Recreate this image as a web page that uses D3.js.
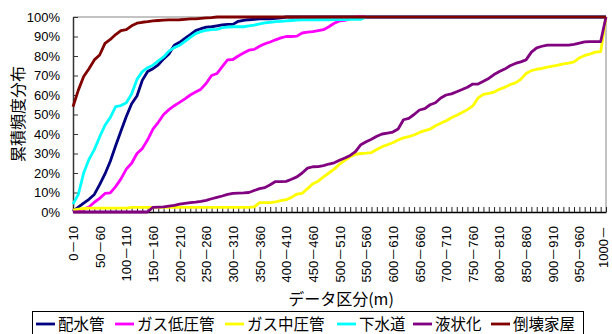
<!DOCTYPE html>
<html>
<head>
<meta charset="utf-8">
<script src="https://cdn.jsdelivr.net/npm/d3@7"></script>
<style>
  body { margin: 0; background: #fff; }
  svg { display: block; }
</style>
</head>
<body>
<svg id="chart" width="612" height="334"></svg>
<script>
// Distance bins (10 m wide) plus the open-ended last bin
const categories = d3.range(0, 1000, 10).map(d => `${d}－${d + 10}`).concat(["1000－"]);

// Labels printed under the axis (every fifth bin)
const xTickLabels = [
  "0－10", "50－60", "100－110", "150－160", "200－210", "250－260", "300－310",
  "350－360", "400－410", "450－460", "500－510", "550－560", "600－610", "650－660",
  "700－710", "750－760", "800－810", "850－860", "900－910", "950－960", "1000－"
];
const yTicks = [0, 10, 20, 30, 40, 50, 60, 70, 80, 90, 100];

const seriesNames = ["配水管", "ガス低圧管", "ガス中圧管", "下水道", "液状化", "倒壊家屋"];
const seriesColors = ["#000080", "#ff00ff", "#ffff00", "#00ffff", "#800080", "#800000"];

// Cumulative frequency (%) per bin
const haisuikan = [
  0.5, 2.5, 4.5, 6.5, 9, 14, 19.5, 26, 34, 41.5,
  49, 55.5, 59.5, 67.5, 72, 73.5, 75.5, 78.5, 81, 85.5,
  87, 89, 91, 93, 94, 94.8, 95, 95.5, 96, 96.2,
  96.2, 97.8, 98.3, 98.6, 98.8, 99, 99, 99.1, 99.3, 99.5,
  100, 100, 100, 100, 100, 100, 100, 100, 100, 100,
  100, 100, 100, 100, 100, 100, 100, 100, 100, 100,
  100, 100, 100, 100, 100, 100, 100, 100, 100, 100,
  100, 100, 100, 100, 100, 100, 100, 100, 100, 100,
  100, 100, 100, 100, 100, 100, 100, 100, 100, 100,
  100, 100, 100, 100, 100, 100, 100, 100, 100, 100,
  100
];
const gasTeiatsu = [
  0.5, 1.2, 1.5, 2.6, 5, 7, 9.5, 9.8, 13, 17,
  22, 25, 30, 32.5, 37, 42.5, 46, 50, 52.5, 54.5,
  56.2, 58, 60, 61.5, 63, 66, 70, 71, 74.5, 78,
  78.2, 80, 81.5, 83, 83.4, 85, 86.3, 87.2, 88.3, 89.3,
  90, 90, 90.2, 91.8, 92.2, 92.5, 93, 93.5, 95, 96.8,
  98, 98.3, 99, 100, 100, 100, 100, 100, 100, 100,
  100, 100, 100, 100, 100, 100, 100, 100, 100, 100,
  100, 100, 100, 100, 100, 100, 100, 100, 100, 100,
  100, 100, 100, 100, 100, 100, 100, 100, 100, 100,
  100, 100, 100, 100, 100, 100, 100, 100, 100, 100,
  100
];
const gasChuatsu = [
  1, 1.5, 1.8, 2, 2, 2, 2, 2, 2, 2,
  2, 2.4, 2.4, 2.4, 2.4, 2.4, 2.4, 2.4, 2.4, 2.4,
  2.4, 2.4, 2.4, 2.4, 2.4, 2.4, 2.4, 2.4, 2.4, 2.4,
  2.4, 2.4, 2.4, 2.4, 2.6, 4.8, 4.8, 4.8, 5.2, 5.8,
  6.3, 7.5, 9.2, 9.6, 12, 14.5, 15.8, 18, 20, 22,
  24.5, 26.5, 28.3, 29.5, 30, 30.2, 30.5, 32, 33.5, 34.5,
  35.5, 36.9, 38, 38.7, 39.5, 40.8, 41.7, 42.5, 44.2, 45.5,
  46.8, 48.3, 49.6, 51, 52.5, 54.4, 58.5, 60.3, 60.8, 61.5,
  62.9, 64, 65.3, 66.2, 68, 71, 72.5, 73.2, 73.6, 74.3,
  74.8, 75.3, 76, 76.4, 77, 79, 80.3, 81, 82, 82.2,
  100
];
const gesuido = [
  4, 9, 20, 27, 32, 38.5, 44.5, 48.5, 54, 54.6,
  56, 60.5, 68, 72, 74, 75.3, 77.5, 79.5, 82.5, 84.3,
  85.5, 87.5, 89.5, 91.5, 92.5, 93.2, 93.5, 93.7, 94.5, 94.8,
  95, 95, 95, 95.5, 95.8, 96.5, 97, 97.3, 97.6, 97.8,
  98, 98.2, 98.4, 98.5, 98.5, 98.5, 98.6, 98.6, 98.6, 98.7,
  98.7, 98.7, 98.8, 98.8, 98.8, 100, 100, 100, 100, 100,
  100, 100, 100, 100, 100, 100, 100, 100, 100, 100,
  100, 100, 100, 100, 100, 100, 100, 100, 100, 100,
  100, 100, 100, 100, 100, 100, 100, 100, 100, 100,
  100, 100, 100, 100, 100, 100, 100, 100, 100, 100,
  100
];
const ekijoka = [
  0, 0, 0, 0, 0, 0, 0, 0, 0, 0,
  0, 0, 0, 0, 0, 2.4, 2.5, 2.6, 3, 3.4,
  4, 4.4, 4.8, 5.1, 5.5, 6, 6.8, 7.5, 8.2, 9,
  9.5, 9.7, 9.8, 10, 11, 12, 12.5, 14, 15.6, 15.6,
  15.7, 16.8, 18, 20, 22.5, 23.2, 23.3, 23.8, 24.6, 25.2,
  26.5, 27.7, 29, 31, 34.5, 36, 37.3, 38.8, 40, 40.5,
  41, 42.6, 47.3, 48, 50, 52.3, 53, 55, 56, 58.5,
  60, 60.6, 61.7, 62.8, 64, 65.6, 65.6, 67, 68.5, 70.5,
  72, 73.3, 75, 76.2, 77, 78, 82, 84.2, 85, 85.6,
  85.6, 85.6, 85.6, 85.6, 86, 86.6, 87.2, 87.4, 87.4, 87.4,
  100
];
const tokaiKaoku = [
  54, 62.5, 69.5, 73.5, 78, 80.5, 86.5, 88.5, 91, 93,
  93.5, 95.5, 96.8, 97.3, 97.6, 98, 98.2, 98.4, 98.5, 98.5,
  98.6, 98.8, 99, 99, 99.3, 99.5, 99.7, 100, 100, 100,
  100, 100, 100, 100, 100, 100, 100, 100, 100, 100,
  100, 100, 100, 100, 100, 100, 100, 100, 100, 100,
  100, 100, 100, 100, 100, 100, 100, 100, 100, 100,
  100, 100, 100, 100, 100, 100, 100, 100, 100, 100,
  100, 100, 100, 100, 100, 100, 100, 100, 100, 100,
  100, 100, 100, 100, 100, 100, 100, 100, 100, 100,
  100, 100, 100, 100, 100, 100, 100, 100, 100, 100,
  100
];

const seriesValues = [haisuikan, gasTeiatsu, gasChuatsu, gesuido, ekijoka, tokaiKaoku];

const latinFont = "'Liberation Sans', Arial, 'Noto Sans CJK JP', sans-serif";
const cjkFont = "'Noto Sans CJK JP', 'Noto Sans CJK SC', sans-serif";

const svg = d3.select("#chart");
const plot = { left: 73, right: 606, top: 17, bottom: 212 };

const x = d3.scalePoint().domain(categories).range([plot.left, plot.right]);
const y = d3.scaleLinear().domain([0, 100]).range([plot.bottom, plot.top]);

// Plot-area frame (top and right edges)
svg.append("path")
  .attr("d", `M${plot.left},${plot.top}H${plot.right}V${plot.bottom}`)
  .attr("fill", "none")
  .attr("stroke", "#b0b0b0")
  .attr("stroke-width", 1.5);

// Y axis
const yAxis = svg.append("g")
  .attr("transform", `translate(${plot.left},0)`)
  .call(d3.axisLeft(y).tickValues(yTicks).tickFormat(d => d + "%")
    .tickSizeInner(-5).tickSizeOuter(0).tickPadding(13));
yAxis.select(".domain").attr("stroke", "#333").attr("stroke-width", 1.5);
yAxis.selectAll(".tick line").attr("stroke", "#333");
yAxis.selectAll("text")
  .attr("font-family", latinFont)
  .attr("font-size", 13)
  .attr("fill", "#000");

// X axis
const shown = new Set(xTickLabels);
const lastCategory = categories[categories.length - 1];
const xAxis = svg.append("g")
  .attr("transform", `translate(0,${plot.bottom})`)
  .call(d3.axisBottom(x).tickFormat(d => shown.has(d) ? d : "")
    .tickSizeInner(-5).tickSizeOuter(0));
xAxis.select(".domain").attr("stroke", "#000").attr("stroke-width", 1.5);
xAxis.selectAll(".tick line").attr("stroke", "#222");
xAxis.selectAll("text")
  .attr("transform", "rotate(-90)")
  .attr("x", -14)
  .attr("y", 0)
  .attr("dy", d => d === lastCategory ? "0.1em" : "0.35em")
  .attr("text-anchor", "end")
  .attr("font-family", latinFont)
  .attr("font-size", 13)
  .attr("fill", "#000");

// Series lines
const line = d3.line()
  .x((d, i) => x(categories[i]))
  .y(d => y(d));

svg.append("g")
  .selectAll("path")
  .data(seriesValues)
  .join("path")
  .attr("d", line)
  .attr("fill", "none")
  .attr("stroke", (d, i) => seriesColors[i])
  .attr("stroke-width", 2.8)
  .attr("stroke-linejoin", "round");

// Axis titles
svg.append("text")
  .attr("transform", "translate(17,114) rotate(-90)")
  .attr("text-anchor", "middle")
  .attr("dominant-baseline", "central")
  .attr("font-family", cjkFont)
  .attr("font-size", 16)
  .text("累積頻度分布");

svg.append("text")
  .attr("x", 341)
  .attr("y", 298)
  .attr("text-anchor", "middle")
  .attr("dominant-baseline", "central")
  .attr("font-family", cjkFont)
  .attr("font-size", 16)
  .text("データ区分(m)");

// Legend
const legendX = [36, 115, 225, 337, 413, 491];
const legend = svg.append("g");
legend.append("rect")
  .attr("x", 32.5).attr("y", 311.5)
  .attr("width", 551).attr("height", 30)
  .attr("fill", "#fff").attr("stroke", "#000");
const items = legend.selectAll("g.item")
  .data(seriesNames)
  .join("g")
  .attr("class", "item")
  .attr("transform", (d, i) => `translate(${legendX[i]},323)`);
items.append("line")
  .attr("x1", 0).attr("x2", 19)
  .attr("y1", 1).attr("y2", 1)
  .attr("stroke", (d, i) => seriesColors[i])
  .attr("stroke-width", 2.8);
items.append("text")
  .attr("x", 22)
  .attr("dominant-baseline", "central")
  .attr("font-family", cjkFont)
  .attr("font-size", 15.5)
  .text(d => d);
</script>
</body>
</html>
